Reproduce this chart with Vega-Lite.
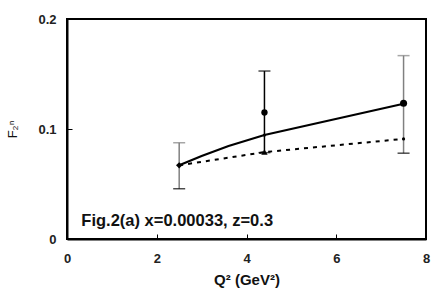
{
  "$schema": "https://vega.github.io/schema/vega-lite/v6.json",
  "width": 359,
  "height": 220,
  "autosize": "none",
  "padding": {"left": 67, "top": 19, "right": 6, "bottom": 57},
  "background": "white",
  "config": {
    "view": {"stroke": "black", "strokeWidth": 2},
    "axis": {"labelFont": "Liberation Sans", "titleFont": "Liberation Sans", "labelColor": "#222", "titleColor": "#111", "domainColor": "black", "domainWidth": 2, "tickColor": "black", "grid": false}
  },
  "datasets": {
    "err": [
      {"q2": 2.5, "lo": 0.0457, "hi": 0.0875, "c": "gray"},
      {"q2": 4.4, "lo": 0.0785, "hi": 0.1527, "c": "black"},
      {"q2": 7.5, "lo": 0.078, "hi": 0.1667, "c": "gray"}
    ],
    "caps": [
      {"q2": 2.5, "y": 0.0875, "c": "gray"},
      {"q2": 2.5, "y": 0.0457, "c": "black"},
      {"q2": 4.4, "y": 0.1527, "c": "black"},
      {"q2": 4.4, "y": 0.0785, "c": "black"},
      {"q2": 7.5, "y": 0.1667, "c": "gray"},
      {"q2": 7.5, "y": 0.078, "c": "black"}
    ],
    "solid": [
      {"q2": 2.5, "f": 0.067},
      {"q2": 3.0, "f": 0.0755},
      {"q2": 3.6, "f": 0.0845},
      {"q2": 4.4, "f": 0.0945},
      {"q2": 7.5, "f": 0.123}
    ],
    "dashed": [
      {"q2": 2.5, "f": 0.067},
      {"q2": 4.4, "f": 0.079},
      {"q2": 7.5, "f": 0.091}
    ],
    "pts": [
      {"q2": 2.5, "f": 0.067, "s": "diamond", "sz": 40},
      {"q2": 4.4, "f": 0.115, "s": "circle", "sz": 40},
      {"q2": 7.5, "f": 0.1234, "s": "circle", "sz": 50},
      {"q2": 4.4, "f": 0.079, "s": "triangle-up", "sz": 40},
      {"q2": 4.4, "f": 0.0945, "s": "circle", "sz": 10},
      {"q2": 7.5, "f": 0.091, "s": "circle", "sz": 10}
    ],
    "label": [
      {"q2": 0.32, "f": 0.0121, "t": "Fig.2(a) x=0.00033, z=0.3"}
    ]
  },
  "layer": [
    {
      "data": {"name": "err"},
      "mark": {"type": "rule", "strokeWidth": 1.5},
      "encoding": {
        "x": {"field": "q2", "type": "quantitative", "scale": {"domain": [0, 8], "nice": false},
          "axis": {"values": [0, 2, 4, 6, 8], "title": "Q² (GeV²)", "titleFontSize": 15, "titleFontWeight": "bold", "titlePadding": 7, "labelFontSize": 13, "labelFontWeight": "bold", "tickSize": -5, "labelPadding": 18, "labelFlush": false}},
        "y": {"field": "lo", "type": "quantitative", "scale": {"domain": [0, 0.2], "nice": false},
          "axis": {"values": [0, 0.1, 0.2], "format": ".1~f", "title": "F₂ⁿ", "titleFontSize": 13, "titleFontWeight": "normal", "titlePadding": 18, "labelFontSize": 13, "labelFontWeight": "bold", "tickSize": -5, "labelPadding": 16}},
        "y2": {"field": "hi"},
        "color": {"field": "c", "type": "nominal", "scale": null}
      }
    },
    {
      "data": {"name": "caps"},
      "mark": {"type": "tick", "orient": "horizontal", "size": 12, "thickness": 1.5},
      "encoding": {
        "x": {"field": "q2", "type": "quantitative"},
        "y": {"field": "y", "type": "quantitative"},
        "color": {"field": "c", "type": "nominal", "scale": null}
      }
    },
    {
      "data": {"name": "dashed"},
      "mark": {"type": "line", "color": "black", "strokeWidth": 2, "strokeDash": [4, 5]},
      "encoding": {
        "x": {"field": "q2", "type": "quantitative"},
        "y": {"field": "f", "type": "quantitative"}
      }
    },
    {
      "data": {"name": "solid"},
      "mark": {"type": "line", "color": "black", "strokeWidth": 2.2},
      "encoding": {
        "x": {"field": "q2", "type": "quantitative"},
        "y": {"field": "f", "type": "quantitative"}
      }
    },
    {
      "data": {"name": "pts"},
      "mark": {"type": "point", "filled": true, "color": "black", "opacity": 1},
      "encoding": {
        "x": {"field": "q2", "type": "quantitative"},
        "y": {"field": "f", "type": "quantitative"},
        "shape": {"field": "s", "type": "nominal", "scale": null},
        "size": {"field": "sz", "type": "quantitative", "scale": null}
      }
    },
    {
      "data": {"name": "label"},
      "mark": {"type": "text", "align": "left", "baseline": "alphabetic", "font": "Liberation Sans", "fontWeight": "bold", "fontSize": 16.5, "color": "#111"},
      "encoding": {
        "x": {"field": "q2", "type": "quantitative"},
        "y": {"field": "f", "type": "quantitative"},
        "text": {"field": "t"}
      }
    }
  ]
}
